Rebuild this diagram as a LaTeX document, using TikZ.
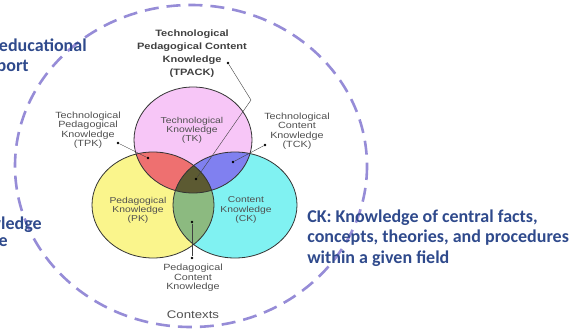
\documentclass[tikz,border=0pt]{standalone}
\usepackage{fontspec}
\newfontfamily\lblfont[FakeStretch=1.2]{Liberation Sans}
\newfontfamily\slidefont{Carlito}
\usetikzlibrary{arrows}

\definecolor{tkpink}{RGB}{247,198,247}
\definecolor{pkyellow}{RGB}{250,245,140}
\definecolor{ckcyan}{RGB}{128,242,242}
\definecolor{tpkred}{RGB}{238,112,112}
\definecolor{tckblue}{RGB}{128,128,240}
\definecolor{pckgreen}{RGB}{140,186,128}
\definecolor{tpackolive}{RGB}{92,90,50}
\definecolor{ctxlav}{RGB}{150,140,215}
\definecolor{slideblue}{RGB}{47,74,140}
\definecolor{lblgray}{RGB}{80,80,80}

\begin{document}
\begin{tikzpicture}[x=1pt,y=-1pt,semithick,
		tkr/.style={x radius=59,y radius=53},
		pkr/.style={x radius=61,y radius=53},
		ckr/.style={x radius=62,y radius=53},
		ring/.style={draw=black!80,line width=0.8pt},
		context/.style={draw=ctxlav,line width=2.6pt,dash pattern=on 14pt off 8pt},
		lbl/.style={align=center,inner sep=0pt,text=lblgray,font=\lblfont\fontsize{9}{9.5}\selectfont},
		inlbl/.style={lbl,font=\lblfont\fontsize{8.6}{9.2}\selectfont},
		boldlbl/.style={lbl,text=black!75,font=\lblfont\bfseries\fontsize{9.2}{13}\selectfont},
		slide/.style={inner sep=0pt,text=slideblue,font=\slidefont\bfseries\fontsize{18}{20.5}\selectfont},
		lbldot/.style={circle,fill=black,inner sep=0pt,minimum size=2.6pt},
		lblline/.style={draw=black!75,thin}]
		
		\useasboundingbox (0,0) rectangle (572,329);
		\clip (0,0) rectangle (572,329);
		
		\draw[context] (191,166) ellipse [x radius=176,y radius=161];
		
		\coordinate (tk) at (193,140);
		\coordinate (pk) at (153,205);
		\coordinate (ck) at (235,205);
		
		\fill[pkyellow] (pk) ellipse [pkr];
		\fill[ckcyan] (ck) ellipse [ckr];
		\fill[tkpink] (tk) ellipse [tkr];
		\begin{scope}
			\clip (tk) ellipse [tkr];
			\fill[tpkred] (pk) ellipse [pkr];
			\fill[tckblue] (ck) ellipse [ckr];
		\end{scope}
		\begin{scope}
			\clip (pk) ellipse [pkr];
			\fill[pckgreen] (ck) ellipse [ckr];
			\clip (tk) ellipse [tkr];
			\fill[tpackolive] (ck) ellipse [ckr];
		\end{scope}
		\draw[ring] (pk) ellipse [pkr];
		\draw[ring] (ck) ellipse [ckr];
		\draw[ring] (tk) ellipse [tkr];
		
		\node[inlbl] (TK) at (192,130) {Technological\\Knowledge\\(TK)};
		\node[inlbl] (PK) at (138,210) {Pedagogical\\Knowledge\\(PK)};
		\node[inlbl] (CK) at (246,210) {Content\\Knowledge\\(CK)};
		\node[boldlbl] (TPACK) at (192,54) {Technological\\Pedagogical Content\\Knowledge\\(TPACK)};
		\node[lbl] (TPK) at (88,130) {Technological\\Pedagogical\\Knowledge\\(TPK)};
		\node[lbl] (TCK) at (297,131) {Technological\\Content\\Knowledge\\(TCK)};
		\node[lbl] (PCK) at (193,278) {Pedagogical\\Content\\Knowledge};
		\node[lbl,font=\lblfont\fontsize{11}{12}\selectfont] (ctx) at (193,315) {Contexts};
		
		\node[lbldot] (tpackA) at (228,63) {};
		\coordinate (tpackbend) at (251,100);
		\node[lbldot] (tpackB) at (196,179) {};
		\node[lbldot] (tpkA) at (118,143) {};
		\node[lbldot] (tpkB) at (148,158) {};
		\node[lbldot] (tckA) at (265,145) {};
		\node[lbldot] (tckB) at (233,162) {};
		\node[lbldot] (pckA) at (192,222) {};
		\node[lbldot] (pckB) at (192,258) {};
		
		\draw[lblline] (tpackA) -- (tpackbend) -- (tpackB);
		\path[lblline]
		(tpkA) edge (tpkB)
		(tckA) edge (tckB)
		(pckA) edge (pckB);
		
		\node[slide,anchor=east] (edu) at (87,45) {educational};
		\node[slide,anchor=east] (port) at (29,67) {port};
		\node[slide,anchor=east] (wledge) at (42,225) {wledge};
		\node[slide,anchor=east] (e) at (8,242) {e};
		\node[slide,anchor=west,align=left] (ckdef) at (307,238) {CK: Knowledge of central facts,\\concepts, theories, and procedures\\within a given field};
	\end{tikzpicture}
\end{document}
